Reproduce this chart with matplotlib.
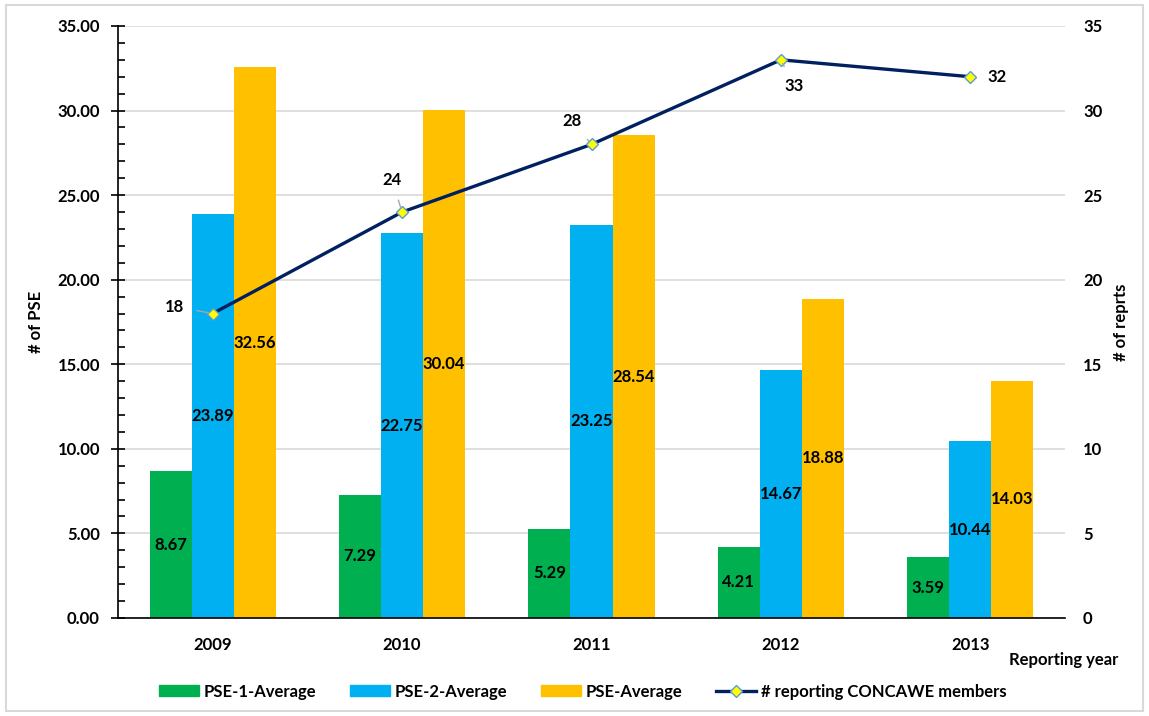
import numpy as np
import matplotlib.pyplot as plt
from matplotlib.patches import Rectangle
from matplotlib.lines import Line2D
from matplotlib.ticker import MultipleLocator

plt.rcParams['font.family'] = ['Lato', 'DejaVu Sans']
plt.rcParams['font.weight'] = 'bold'

years = ['2009', '2010', '2011', '2012', '2013']
pse1_avg = [8.67, 7.29, 5.29, 4.21, 3.59]
pse2_avg = [23.89, 22.75, 23.25, 14.67, 10.44]
pse_avg = [32.56, 30.04, 28.54, 18.88, 14.03]
members = [18, 24, 28, 33, 32]

green = '#00b050'
blue = '#00b0f0'
orange = '#ffc000'
navy = '#002060'
fs = 12

fig = plt.figure(figsize=(11.49, 7.16), dpi=100)
fig.patches.append(Rectangle((0.005, 0.007), 0.99, 0.986, transform=fig.transFigure,
                             fill=False, edgecolor='#d9d9d9', linewidth=1.5))

ax1 = fig.add_axes([0.1027, 0.1369, 0.8242, 0.8268])
x = np.arange(len(years))
w = 0.222

b1 = ax1.bar(x - w, pse1_avg, w, color=green, zorder=2)
b2 = ax1.bar(x, pse2_avg, w, color=blue, zorder=2)
b3 = ax1.bar(x + w, pse_avg, w, color=orange, zorder=2)
for bars in (b1, b2, b3):
    ax1.bar_label(bars, fmt='%.2f', label_type='center', fontsize=fs,
                  fontweight='bold', color='black')

ax1.set_xlim(-0.5, len(years) - 0.5)
ax1.set_ylim(0, 35)
ax1.set_xticks(x)
ax1.set_xticklabels(years, fontsize=fs, fontweight='bold')
ax1.tick_params(axis='x', length=0, pad=14)
ax1.yaxis.set_major_locator(MultipleLocator(5))
ax1.yaxis.set_minor_locator(MultipleLocator(1))
ax1.yaxis.set_major_formatter(lambda v, p: f'{v:.2f}')
ax1.tick_params(axis='y', which='major', direction='inout', length=10, width=1.2,
                labelsize=fs, pad=8)
ax1.tick_params(axis='y', which='minor', direction='in', length=5, width=1.2)
ax1.grid(axis='y', color='#d9d9d9', linewidth=1.2, zorder=0)
ax1.set_axisbelow(True)
for s in ('top', 'right'):
    ax1.spines[s].set_visible(False)
ax1.spines['left'].set_linewidth(1.2)
ax1.spines['bottom'].set_linewidth(1.2)
ax1.set_ylabel('# of PSE', fontsize=fs, fontweight='bold', labelpad=10)

ax2 = ax1.twinx()
ax2.plot(x, members, color=navy, linewidth=2.4, marker='D', markersize=6,
         markerfacecolor='#ffff00', markeredgecolor='#5b9bd5', markeredgewidth=1,
         zorder=5)
ax2.set_ylim(0, 35)
ax2.yaxis.set_major_locator(MultipleLocator(5))
ax2.tick_params(axis='y', length=0, labelsize=fs, pad=13)
for s in ax2.spines.values():
    s.set_visible(False)
ax2.set_ylabel('# of reprts', fontsize=fs, fontweight='bold', labelpad=8)

# value labels for the members line, with leader lines where offset
offsets = [(-38, 7), (-10, 32), (-20, 23), (13, -26), (27, 0)]
leaders = [True, True, True, True, False]
for xi, v, off, lead in zip(x, members, offsets, leaders):
    props = dict(arrowstyle='-', color='#a6a6a6', lw=1, shrinkA=7, shrinkB=3) if lead else None
    ax2.annotate(str(v), (xi, v), xytext=off, textcoords='offset pixels',
                 ha='center', va='center', fontsize=fs, fontweight='bold',
                 arrowprops=props, zorder=6)

fig.text(0.9735, 0.078, 'Reporting year', ha='right', va='center',
         fontsize=fs, fontweight='bold')

handles = [Rectangle((0, 0), 1, 1, color=green),
           Rectangle((0, 0), 1, 1, color=blue),
           Rectangle((0, 0), 1, 1, color=orange),
           Line2D([], [], color=navy, linewidth=2.4, marker='D', markersize=6,
                  markerfacecolor='#ffff00', markeredgecolor='#5b9bd5')]
labels = ['PSE-1-Average', 'PSE-2-Average', 'PSE-Average', '# reporting CONCAWE members']
fig.legend(handles, labels, loc='center', bbox_to_anchor=(0.507, 0.034), ncol=4,
           frameon=False, fontsize=fs, handlelength=2.4, handleheight=0.65,
           columnspacing=2.0, handletextpad=0.3)

plt.savefig('out.png', dpi=100)
